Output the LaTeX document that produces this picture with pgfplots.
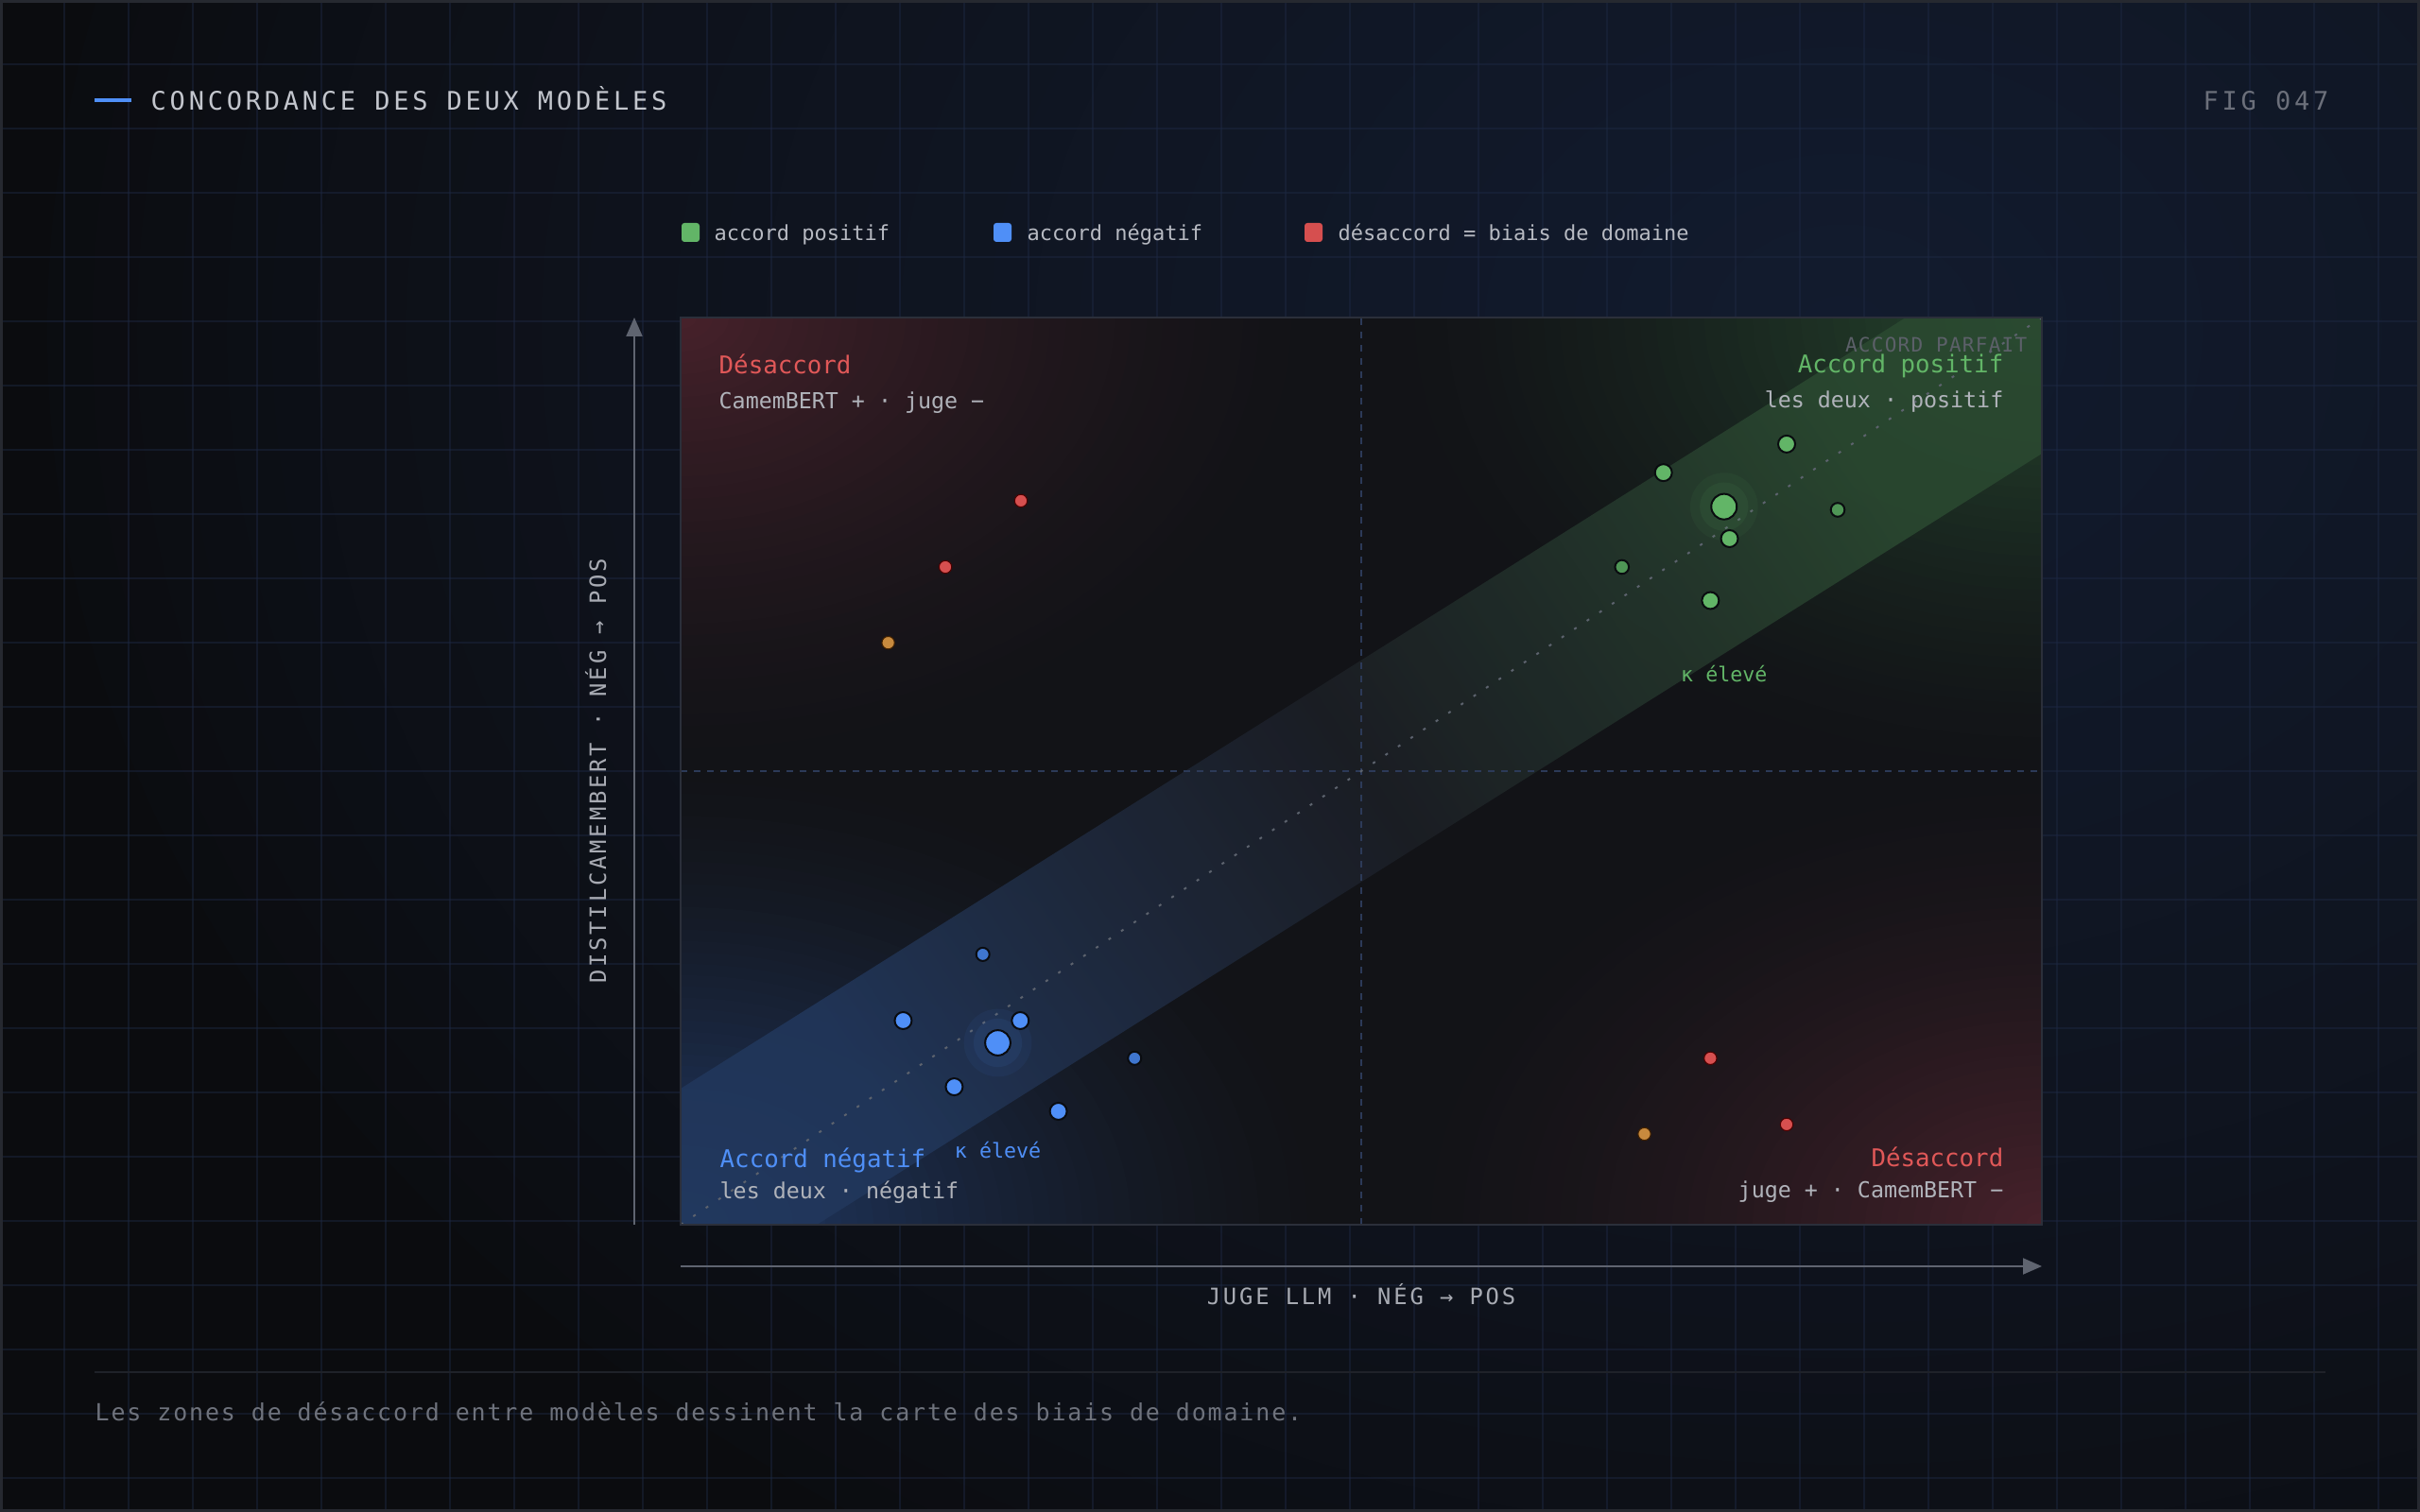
\documentclass[border=0pt]{standalone}
\usepackage{fontspec}
\setmainfont{DejaVu Sans Mono}
\newfontfamily\spacedtitle[LetterSpace=14]{DejaVu Sans Mono}
\newfontfamily\spacedlabel[LetterSpace=12]{DejaVu Sans Mono}
\newfontfamily\spacedsmall[LetterSpace=6]{DejaVu Sans Mono}
\newfontfamily\spacedcap[LetterSpace=7.5]{DejaVu Sans Mono}
\usepackage{pgfplots}
\pgfplotsset{compat=1.18}
\usetikzlibrary{arrows.meta}

\newcommand\fs[1]{\fontsize{#1}{#1}\selectfont}

\definecolor{pagebg}{HTML}{0B0C0F}
\definecolor{navyglow}{HTML}{121B2E}
\definecolor{gridcol}{HTML}{1E2944}
\definecolor{plotbg}{HTML}{121317}
\definecolor{glowred}{HTML}{46212A}
\definecolor{glowgreen}{HTML}{26482E}
\definecolor{glowblue}{HTML}{213B69}
\definecolor{bandbl}{HTML}{22385D}
\definecolor{bandmid}{HTML}{1C1F26}
\definecolor{bandtr}{HTML}{2B4A31}
\definecolor{boxcol}{HTML}{2B2F3A}
\definecolor{midline}{HTML}{2C3A58}
\definecolor{diagcol}{HTML}{5D636E}
\definecolor{greenpt}{HTML}{62B567}
\definecolor{greensm}{HTML}{4F9656}
\definecolor{bluept}{HTML}{4F8FF7}
\definecolor{bluesm}{HTML}{3F76CF}
\definecolor{redpt}{HTML}{D64F4F}
\definecolor{orangept}{HTML}{C78A3E}
\definecolor{outline}{HTML}{0A0C10}
\definecolor{titlecol}{HTML}{C3C6CD}
\definecolor{figcol}{HTML}{6B6F7A}
\definecolor{legtext}{HTML}{B7BAC2}
\definecolor{quadred}{HTML}{E05858}
\definecolor{subcol}{HTML}{B0B3BA}
\definecolor{parfait}{HTML}{5C6069}
\definecolor{axlabel}{HTML}{A8ABB3}
\definecolor{captcol}{HTML}{6E727C}
\definecolor{arrowcol}{HTML}{5F6470}
\definecolor{sepcol}{HTML}{1F2229}
\definecolor{framecol}{HTML}{262930}

% soft glow built from concentric opaque ellipses
% #1 glow colour, #2 base colour, #3 centre, #4 x radius, #5 y radius, #6 exponent
\newcommand\softglow[6]{%
  \foreach \k in {1,...,40} {%
    \pgfmathsetmacro\t{1-(\k-1)/40}%
    \pgfmathsetmacro\p{100*(\k/40)^#6}%
    \fill[#1!\p!#2] #3 ellipse [x radius=#4*\t, y radius=#5*\t];
  }%
}

\begin{document}
\begin{tikzpicture}
\useasboundingbox (0,0) rectangle (25.6,16);
% page background
\begin{scope}
\clip (0,0) rectangle (25.6,16);
\fill[pagebg] (0,0) rectangle (25.6,16);
\softglow{navyglow}{pagebg}{(19.5,12.5)}{19}{15}{0.8}
\foreach \i in {1,...,37} \draw[gridcol, opacity=0.45, line width=0.02cm] (\i*0.68,0) -- (\i*0.68,16);
\foreach \j in {1,...,23} \draw[gridcol, opacity=0.45, line width=0.02cm] (0,16-\j*0.68) -- (25.6,16-\j*0.68);
\end{scope}
\draw[framecol, line width=0.03cm] (0.015,0.015) rectangle (25.585,15.985);

% plot background and corner glows
\fill[plotbg] (7.2,3.04) rectangle (21.6,12.64);
\begin{scope}
\clip (7.2,7.84) rectangle (14.4,12.64);
\softglow{glowred}{plotbg}{(7.2,12.64)}{6.8}{4.8}{1.6}
\end{scope}
\begin{scope}
\clip (14.4,3.04) rectangle (21.6,7.84);
\softglow{glowred}{plotbg}{(21.6,3.04)}{6.8}{4.8}{1.6}
\end{scope}
\begin{scope}
\clip (14.4,7.84) rectangle (21.6,12.64);
\softglow{glowgreen}{plotbg}{(21.6,12.64)}{6.8}{4.8}{1.5}
\end{scope}
\begin{scope}
\clip (7.2,3.04) rectangle (14.4,7.84);
\softglow{glowblue}{plotbg}{(7.2,3.04)}{6.8}{4.8}{1.5}
\end{scope}

\begin{axis}[
  at={(7.2cm,3.04cm)}, anchor=south west,
  scale only axis, width=14.4cm, height=9.6cm,
  xmin=-1, xmax=1, ymin=-1, ymax=1,
  axis line style={draw=none}, ticks=none,
  clip=true,
]
% agreement band
\addplot[draw=none, top color=bandtr, bottom color=bandbl, middle color=bandmid, shading angle=-56, fill opacity=0.85]
  coordinates {(-1,-1) (-1,-0.7) (0.8,1) (1,1) (1,0.7) (-0.8,-1)} -- cycle;
% quadrant separators
\addplot[midline, line width=0.015cm, dash pattern=on 0.07cm off 0.07cm] coordinates {(0,-1) (0,1)};
\addplot[midline, line width=0.015cm, dash pattern=on 0.07cm off 0.07cm] coordinates {(-1,0) (1,0)};
% perfect agreement diagonal
\addplot[diagcol, line width=0.02cm, dash pattern=on 0.03cm off 0.13cm] coordinates {(-1,-1) (1,1)};

% halos
\addplot[only marks, mark=*, mark size=10.2pt, mark options={draw opacity=0, fill=greenpt, fill opacity=0.06}] coordinates {(0.533,0.583)};
\addplot[only marks, mark=*, mark size=7.3pt, mark options={draw opacity=0, fill=greenpt, fill opacity=0.08}] coordinates {(0.533,0.583)};
\addplot[only marks, mark=*, mark size=10.2pt, mark options={draw opacity=0, fill=bluept, fill opacity=0.06}] coordinates {(-0.534,-0.599)};
\addplot[only marks, mark=*, mark size=7.3pt, mark options={draw opacity=0, fill=bluept, fill opacity=0.08}] coordinates {(-0.534,-0.599)};

% green points
\addplot[only marks, mark=*, mark size=2.56pt, mark options={fill=greenpt, draw=outline, line width=0.57pt}]
  coordinates {(0.625,0.721) (0.444,0.658) (0.541,0.5125) (0.513,0.376)};
\addplot[only marks, mark=*, mark size=2.08pt, mark options={fill=greensm, draw=outline, line width=0.57pt}]
  coordinates {(0.700,0.576) (0.383,0.450)};
\addplot[only marks, mark=*, mark size=3.84pt, mark options={fill=greenpt, draw=outline, line width=0.57pt}]
  coordinates {(0.533,0.583)};
% blue points
\addplot[only marks, mark=*, mark size=2.56pt, mark options={fill=bluept, draw=outline, line width=0.57pt}]
  coordinates {(-0.673,-0.550) (-0.501,-0.550) (-0.598,-0.696) (-0.445,-0.750)};
\addplot[only marks, mark=*, mark size=2.0pt, mark options={fill=bluesm, draw=outline, line width=0.57pt}]
  coordinates {(-0.556,-0.404) (-0.333,-0.633)};
\addplot[only marks, mark=*, mark size=3.8pt, mark options={fill=bluept, draw=outline, line width=0.57pt}]
  coordinates {(-0.534,-0.599)};
% disagreement points
\addplot[only marks, mark=*, mark size=1.9pt, mark options={fill=redpt, draw=red!30!black, line width=0.3pt}]
  coordinates {(-0.500,0.596) (-0.611,0.450) (0.513,-0.633) (0.625,-0.779)};
\addplot[only marks, mark=*, mark size=1.9pt, mark options={fill=orangept, draw=orange!25!black, line width=0.3pt}]
  coordinates {(-0.695,0.283) (0.416,-0.800)};

\node[text=greenpt, inner sep=0, anchor=center] at (axis cs:0.533,0.2146) {\fs{6.15pt}κ élevé};
\node[text=bluept, inner sep=0, anchor=center] at (axis cs:-0.534,-0.835) {\fs{6.15pt}κ élevé};
\end{axis}

\draw[boxcol, line width=0.02cm] (7.2,3.04) rectangle (21.6,12.64);

% quadrant labels
\node[anchor=base west, inner sep=0, text=quadred] at (7.60,12.04) {\fs{7.34pt}Désaccord};
\node[anchor=base west, inner sep=0, text=subcol] at (7.60,11.673) {\fs{6.63pt}CamemBERT + · juge −};
\node[anchor=base east, inner sep=0, text=parfait] at (21.45,12.277) {\spacedsmall\fs{5.98pt}ACCORD PARFAIT};
\node[anchor=base east, inner sep=0, text=greenpt] at (21.20,12.05) {\fs{7.34pt}Accord positif};
\node[anchor=base east, inner sep=0, text=subcol] at (21.20,11.683) {\fs{6.63pt}les deux · positif};
\node[anchor=base west, inner sep=0, text=bluept] at (7.61,3.643) {\fs{7.34pt}Accord négatif};
\node[anchor=base west, inner sep=0, text=subcol] at (7.61,3.317) {\fs{6.63pt}les deux · négatif};
\node[anchor=base east, inner sep=0, text=quadred] at (21.20,3.65) {\fs{7.34pt}Désaccord};
\node[anchor=base east, inner sep=0, text=subcol] at (21.20,3.323) {\fs{6.63pt}juge + · CamemBERT −};

% axis arrows and labels
\draw[arrowcol, line width=0.02cm, -{Triangle[width=0.17cm,length=0.2cm]}] (6.71,3.04) -- (6.71,12.64);
\draw[arrowcol, line width=0.02cm, -{Triangle[width=0.17cm,length=0.2cm]}] (7.20,2.60) -- (21.60,2.60);
\node[anchor=base, inner sep=0, text=axlabel] at (14.40,2.193) {\spacedlabel\fs{6.77pt}JUGE LLM · NÉG → POS};
\node[anchor=base, rotate=90, inner sep=0, text=axlabel] at (6.41,7.84) {\spacedlabel\fs{6.77pt}DISTILCAMEMBERT · NÉG → POS};

% title
\fill[bluept] (1.00,14.915) rectangle (1.39,14.96);
\node[anchor=base west, inner sep=0, text=titlecol] at (1.59,14.833) {\spacedtitle\fs{7.68pt}CONCORDANCE DES DEUX MODÈLES};
\node[anchor=base east, inner sep=0, text=figcol] at (24.64,14.833) {\spacedtitle\fs{7.68pt}FIG 047};

% legend
\fill[greenpt, rounded corners=0.03cm] (7.21,13.44) rectangle (7.40,13.64);
\node[anchor=base west, inner sep=0, text=legtext] at (7.55,13.45) {\fs{6.26pt}accord positif};
\fill[bluept, rounded corners=0.03cm] (10.51,13.44) rectangle (10.70,13.64);
\node[anchor=base west, inner sep=0, text=legtext] at (10.86,13.45) {\fs{6.26pt}accord négatif};
\fill[redpt, rounded corners=0.03cm] (13.80,13.44) rectangle (13.99,13.64);
\node[anchor=base west, inner sep=0, text=legtext] at (14.15,13.45) {\fs{6.26pt}désaccord = biais de domaine};

% caption
\draw[sepcol, line width=0.015cm] (1.00,1.48) -- (24.60,1.48);
\node[anchor=base west, inner sep=0, text=captcol] at (1.00,0.96) {\spacedcap\fs{7.1pt}Les zones de désaccord entre modèles dessinent la carte des biais de domaine.};
\end{tikzpicture}
\end{document}
